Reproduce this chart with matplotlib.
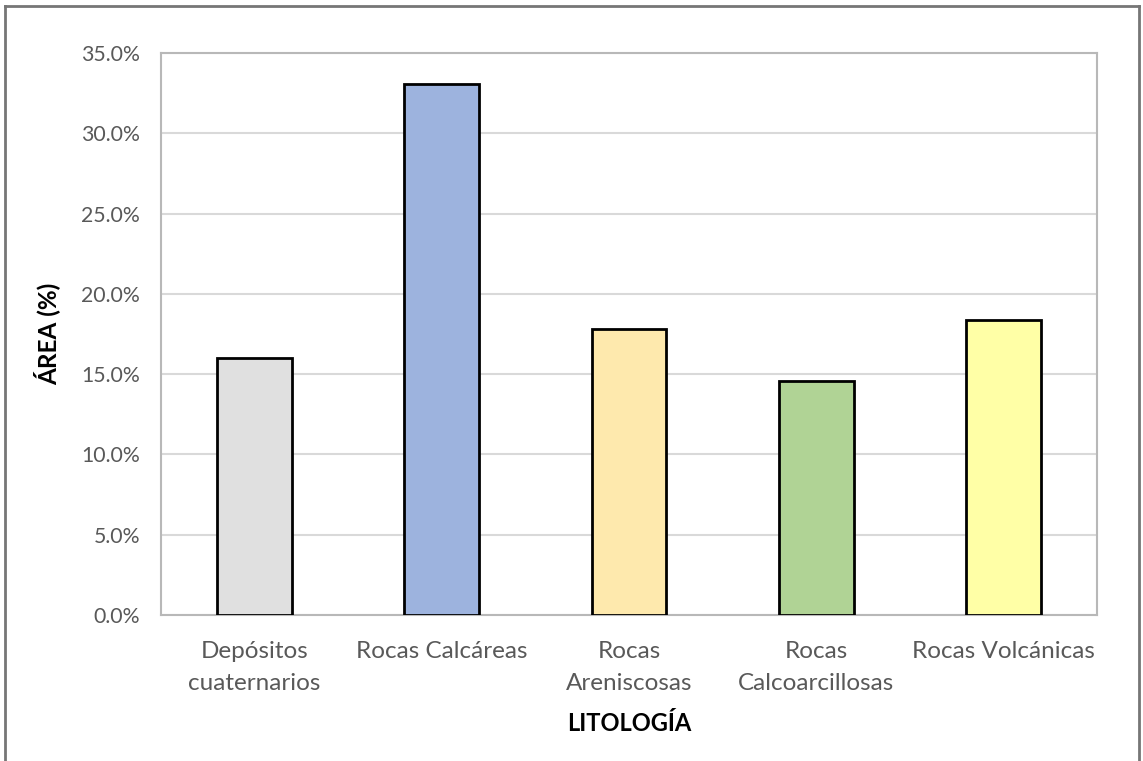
import matplotlib.pyplot as plt
from matplotlib.lines import Line2D
from matplotlib.ticker import PercentFormatter

categorias = ["Depósitos\ncuaternarios", "Rocas Calcáreas", "Rocas\nAreniscosas",
              "Rocas\nCalcoarcillosas", "Rocas Volcánicas"]
area = [16.0, 33.05, 17.8, 14.55, 18.35]
colores = ["#e0e0e0", "#9db3de", "#fee9ad", "#b0d395", "#ffffa6"]
yticks = [0, 5, 10, 15, 20, 25, 30, 35]

plt.rcParams['font.family'] = ['Lato', 'DejaVu Sans']

fig = plt.figure(figsize=(11.43, 7.61), dpi=100)
ax = fig.add_axes([161 / 1143, 1 - 614.8 / 761, (1097 - 161) / 1143, (614.8 - 53) / 761])

x = range(len(categorias))
ax.bar(x, area, width=0.4, color=colores, edgecolor="black", linewidth=2, zorder=3)

ax.set_xlim(-0.5, len(categorias) - 0.5)
ax.set_ylim(0, 35)
ax.set_yticks(yticks)
ax.yaxis.set_major_formatter(PercentFormatter(decimals=1))
ax.set_xticks(list(x))
ax.set_xticklabels(categorias, fontsize=17.5, color="#595959", linespacing=1.65)
ax.tick_params(axis="y", labelsize=15.3, labelcolor="#595959", length=0, pad=15)
ax.tick_params(axis="x", length=0, pad=19)
ax.grid(axis="y", color="#d9d9d9", linewidth=1.5, zorder=0)

for s in ax.spines.values():
    s.set_color("#b8b8b8")
    s.set_linewidth(1.5)

ax.set_ylabel("ÁREA (%)", fontsize=17.5, fontweight="bold", color="black", labelpad=15)
ax.set_xlabel("LITOLOGÍA", fontsize=17, fontweight="bold", color="black", labelpad=13)

# marco exterior del gráfico
fx0, fx1, fy1 = 5 / 1143, 1139 / 1143, 1 - 6 / 761
for xs, ys in [([fx0, fx0], [0, fy1]), ([fx0, fx1], [fy1, fy1]), ([fx1, fx1], [fy1, 0])]:
    fig.add_artist(Line2D(xs, ys, transform=fig.transFigure, color="#767676", linewidth=2))

fig.savefig("out.png", dpi=100)
